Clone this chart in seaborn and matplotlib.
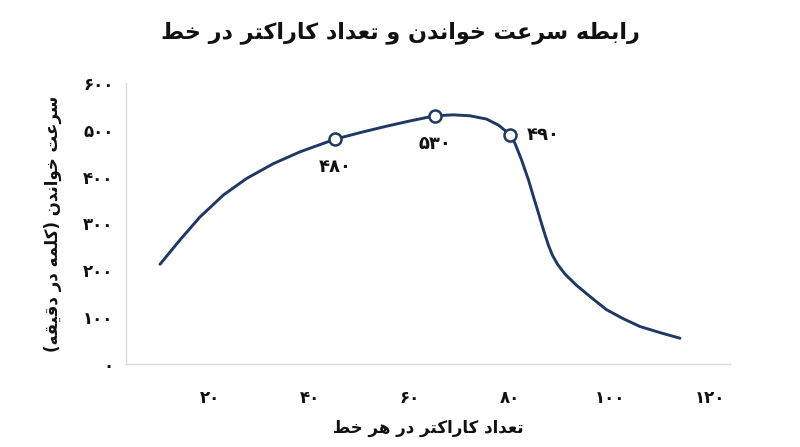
import matplotlib
matplotlib.use("Agg")
import matplotlib.pyplot as plt
import seaborn as sns
import pandas as pd

# ---------------- data ----------------
title_fa = "رابطه سرعت خواندن و تعداد کاراکتر در خط"
xlabel_fa = "تعداد کاراکتر در هر خط"
ylabel_fa = "سرعت خواندن (کلمه در دقیقه)"

curve_x = [10, 14, 18, 22.7, 27.3, 32.7, 38, 45, 50, 55, 60, 65, 68.7, 72, 75.3, 77.7, 80,
           81, 82.3, 83.7, 84.7, 85.7, 86.7, 87.7, 88.5, 89.5, 91, 93.3, 96.7, 99.3, 102.6,
           106, 110, 114]
curve_y = [213, 265, 314, 361, 396, 428, 453, 480, 494, 507, 519, 530, 532, 530, 523, 510, 490,
           471, 436, 393, 357, 322, 286, 253, 232, 213, 192, 168, 138, 116, 97,
           80, 67, 55]

marker_x = [45, 65, 80]
marker_y = [480, 530, 490]
marker_labels = ["۴۸۰", "۵۳۰", "۴۹۰"]

x_ticks = [20, 40, 60, 80, 100, 120]
x_tick_labels = ["۲۰", "۴۰", "۶۰", "۸۰", "۱۰۰", "۱۲۰"]
y_ticks = [0, 100, 200, 300, 400, 500, 600]
y_tick_labels = ["۰", "۱۰۰", "۲۰۰", "۳۰۰", "۴۰۰", "۵۰۰", "۶۰۰"]

# ------------- minimal Arabic/Persian shaping -------------
# forms: isolated, final, initial, medial
FORMS = {
    "ا": ("\uFE8D", "\uFE8E", None, None),
    "ب": ("\uFE8F", "\uFE90", "\uFE91", "\uFE92"),
    "ت": ("\uFE95", "\uFE96", "\uFE97", "\uFE98"),
    "خ": ("\uFEA5", "\uFEA6", "\uFEA7", "\uFEA8"),
    "د": ("\uFEA9", "\uFEAA", None, None),
    "ر": ("\uFEAD", "\uFEAE", None, None),
    "س": ("\uFEB1", "\uFEB2", "\uFEB3", "\uFEB4"),
    "ط": ("\uFEC1", "\uFEC2", "\uFEC3", "\uFEC4"),
    "ع": ("\uFEC9", "\uFECA", "\uFECB", "\uFECC"),
    "ق": ("\uFED5", "\uFED6", "\uFED7", "\uFED8"),
    "ل": ("\uFEDD", "\uFEDE", "\uFEDF", "\uFEE0"),
    "م": ("\uFEE1", "\uFEE2", "\uFEE3", "\uFEE4"),
    "ن": ("\uFEE5", "\uFEE6", "\uFEE7", "\uFEE8"),
    "ه": ("\uFEE9", "\uFEEA", "\uFEEB", "\uFEEC"),
    "و": ("\uFEED", "\uFEEE", None, None),
    "ک": ("\uFB8E", "\uFB8F", "\uFB90", "\uFB91"),
    "ی": ("\uFBFC", "\uFBFD", "\uFBFE", "\uFBFF"),
}


def _dual(c):
    return c in FORMS and FORMS[c][2] is not None


def _joins(c):
    return c in FORMS


def shape_rtl(text):
    out = []
    n = len(text)
    for i, c in enumerate(text):
        if c not in FORMS:
            out.append(c)
            continue
        prev_c = text[i - 1] if i > 0 else ""
        next_c = text[i + 1] if i < n - 1 else ""
        jp = _dual(prev_c) and _joins(c)
        jn = _dual(c) and _joins(next_c)
        iso, fin, ini, med = FORMS[c]
        if jp and jn:
            out.append(med)
        elif jp:
            out.append(fin)
        elif jn:
            out.append(ini)
        else:
            out.append(iso)
    s = "".join(out)[::-1]
    mirror = {"(": ")", ")": "("}
    return "".join(mirror.get(ch, ch) for ch in s)


# ---------------- plot ----------------
sns.set_theme(style="white")
plt.rcParams["font.family"] = ["DejaVu Sans"]

navy = "#203864"
text_col = "#111111"

fig = plt.figure(figsize=(8, 4.47), dpi=100)
ax = fig.add_axes([0.1575, 0.1857, 0.755, 0.6286])

df = pd.DataFrame({"x": curve_x, "y": curve_y})
sns.lineplot(data=df, x="x", y="y", ax=ax, color=navy, linewidth=2.1, sort=False)
ax.lines[0].set_solid_joinstyle("round")
ax.lines[0].set_solid_capstyle("round")

dm = pd.DataFrame({"x": marker_x, "y": marker_y})
sns.scatterplot(data=dm, x="x", y="y", ax=ax, s=75, facecolor="white",
                edgecolor=navy, linewidth=1.8, zorder=5)

offsets = [(0, -20), (0, -20), (24, 0)]
for mx, my, lab, (dx, dy) in zip(marker_x, marker_y, marker_labels, offsets):
    ax.annotate(lab, (mx, my), xytext=(dx, dy), textcoords="offset points",
                ha="center", va="center", fontsize=13, fontweight="bold",
                color=text_col)

ax.set_xlim(3.2, 124)
ax.set_ylim(0, 600)
ax.set_xticks(x_ticks)
ax.set_xticklabels(x_tick_labels)
ax.set_yticks(y_ticks)
ax.set_yticklabels(y_tick_labels)
ax.tick_params(axis="x", length=0, pad=18, labelsize=12, labelcolor=text_col)
ax.tick_params(axis="y", length=0, pad=9, labelsize=12, labelcolor=text_col)
for lab in ax.get_xticklabels() + ax.get_yticklabels():
    lab.set_fontweight("bold")

for side in ["top", "right"]:
    ax.spines[side].set_visible(False)
for side in ["left", "bottom"]:
    ax.spines[side].set_color("#d9d9d9")
    ax.spines[side].set_linewidth(1.0)

ax.set_xlabel(shape_rtl(xlabel_fa), fontsize=12, fontweight="bold",
              color=text_col, labelpad=9)
ax.set_ylabel(shape_rtl(ylabel_fa), fontsize=12, fontweight="bold",
              color=text_col, labelpad=15)
fig.suptitle(shape_rtl(title_fa), x=0.5, y=0.926, va="center", fontsize=16,
             fontweight="bold", color=text_col)

fig.savefig("out.png", dpi=100, facecolor="white")
